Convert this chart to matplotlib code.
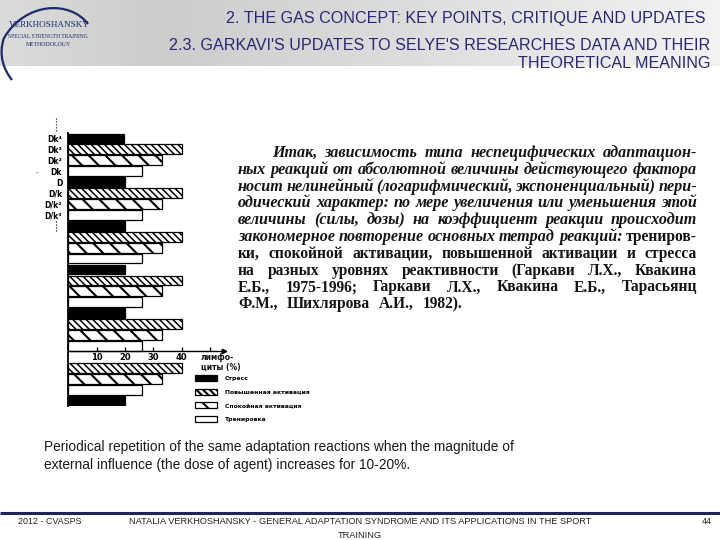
import numpy as np
import matplotlib
matplotlib.use('Agg')
import matplotlib.pyplot as plt
from matplotlib.path import Path
from matplotlib.patches import PathPatch

W, H = 720, 540
plt.rcParams['hatch.linewidth'] = 1.5

# ---------------- data ----------------
row_labels = ['Dk⁴', 'Dk³', 'Dk²', 'Dk', 'D', 'D/k', 'D/k²', 'D/k³']
row_kind = ['S', 'H', 'C', 'T', 'S', 'H', 'C', 'T', 'S', 'H', 'C', 'T',
            'S', 'H', 'C', 'T', 'S', 'H', 'C', 'T', '-', 'H', 'C', 'T', 'S']
lymph_pct = [19.5, 40, 33, 26, 20, 40, 33, 26, 20, 40, 33, 26,
             20, 40, 33, 26, 20, 40, 33, 26, 0, 40, 33, 26, 20]
kind_order = ['S', 'H', 'C', 'T']
kind_names = ['Стресс', 'Повышенная активация', 'Спокойная активация', 'Тренировка']
x_ticks = [10, 20, 30, 40, 50]
x_tick_labels = ['10', '20', '30', '40', '']

title1 = "2. THE GAS CONCEPT: KEY POINTS, CRITIQUE AND UPDATES"
title2 = "2.3. GARKAVI'S UPDATES TO SELYE'S RESEARCHES DATA AND THEIR"
title3 = "THEORETICAL MEANING"
caption1 = "Periodical repetition of the same adaptation reactions when the magnitude of"
caption2 = "external influence (the dose of agent) increases for 10-20%."
footer_left = "2012 - CVASPS"
footer_mid1 = "NATALIA VERKHOSHANSKY - GENERAL ADAPTATION SYNDROME AND ITS APPLICATIONS IN THE SPORT"
footer_mid2 = "TRAINING"
footer_right = "44"

ru_lines = [
    [("Итак, зависимость типа неспецифических адаптацион-", True)],
    [("ных реакций от абсолютной величины действующего фактора", True)],
    [("носит нелинейный (логарифмический, экспоненциальный) пери-", True)],
    [("одический характер: по мере увеличения или уменьшения этой", True)],
    [("величины (силы, дозы) на коэффициент реакции происходит", True)],
    [("закономерное повторение основных тетрад реакций:", True), ("трениров-", False)],
    [("ки, спокойной активации, повышенной активации и стресса", False)],
    [("на разных уровнях реактивности (Гаркави Л.Х., Квакина", False)],
    [("Е.Б., 1975-1996; Гаркави Л.Х., Квакина Е.Б., Тарасьянц", False)],
    [("Ф.М., Шихлярова А.И., 1982).", False)],
]

# ---------------- figure ----------------
fig = plt.figure(figsize=(7.2, 5.4), dpi=100)
bg = fig.add_axes([0, 0, 1, 1])
bg.axis('off')

xs = np.linspace(0, W, 721)
g = np.interp(xs, [0, 160, 720], [0.86, 0.80, 0.95])
img = np.dstack([np.tile(g, (2, 1))] * 3)
bg.imshow(img, extent=(0, W, 66, 0), aspect='auto', zorder=0)
bg.set_xlim(0, W)
bg.set_ylim(H, 0)

navy = '#272772'
logo_c = '#1c2a6b'
# logo
verts = [(88, 24), (70, 0), (25, 2), (4, 38), (-2, 55), (4, 70), (12, 80)]
codes = [Path.MOVETO] + [Path.CURVE4] * 6
bg.add_patch(PathPatch(Path(verts, codes), fill=False, edgecolor=logo_c, lw=1.6))
bg.text(49, 25, "VERKHOSHANSKY", fontsize=6.6, family='Liberation Serif',
        color=logo_c, ha='center', va='center')
bg.text(48, 36, "SPECIAL STRENGTH TRAINING", fontsize=4.0, family='Liberation Serif',
        color=logo_c, ha='center', va='center')
bg.text(48, 45, "METHODOLOGY", fontsize=4.2, family='Liberation Serif',
        color=logo_c, ha='center', va='center')

# titles
bg.text(705, 18, title1, fontsize=11.6, family='Liberation Sans', color=navy, ha='right', va='center')
bg.text(710, 46, title2, fontsize=11.6, family='Liberation Sans', color=navy, ha='right', va='center')
bg.text(710, 64, title3, fontsize=11.6, family='Liberation Sans', color=navy, ha='right', va='center')

# caption
bg.text(44, 447, caption1, fontsize=9.9, family='Liberation Sans', color='#1a1a1a', va='center')
bg.text(44, 465, caption2, fontsize=9.9, family='Liberation Sans', color='#1a1a1a', va='center')

# footer
bg.plot([0, W], [513, 513], color='#23235a', lw=2.2, solid_capstyle='butt')
bg.text(18, 522, footer_left, fontsize=6.4, family='Liberation Sans', color='#222222', va='center')
bg.text(360, 522, footer_mid1, fontsize=6.65, family='Liberation Sans', color='#222222', va='center', ha='center')
bg.text(360, 535, footer_mid2, fontsize=6.65, family='Liberation Sans', color='#222222', va='center', ha='center')
bg.text(712, 522, footer_right, fontsize=6.4, family='Liberation Sans', color='#222222', va='center', ha='right')

# stray mark
bg.text(37, 172, '-', fontsize=5, color='#333333', ha='center', va='center')

# ---------------- russian justified text ----------------
rend = fig.canvas.get_renderer()
def style(it):
    return dict(fontsize=11.6 if it else 11.2, family='Liberation Serif', fontweight='bold',
                fontstyle='italic' if it else 'normal', color='#141414', va='baseline')

def width(word, it):
    t = bg.text(0, 0, word, **style(it))
    w = t.get_window_extent(rend).width
    t.remove()
    return w

x_left, x_right, x_indent = 238, 697, 272
for i, segs in enumerate(ru_lines):
    words = []
    for s, it in segs:
        for w in s.split():
            words.append((w, it))
    ws = [width(w, it) for w, it in words]
    start = x_indent if i == 0 else x_left
    y = 157 + 16.8 * i
    if i < len(ru_lines) - 1 and len(words) > 1:
        gap = (x_right - start - sum(ws)) / (len(words) - 1)
    else:
        gap = 9
    x = start
    for (w, it), wd in zip(words, ws):
        bg.text(x, y, w, **style(it))
        x += wd + gap

# ---------------- bar chart ----------------
x0px, ppu = 68.4, 2.83
ax = fig.add_axes([x0px / W, 1 - 406 / H, 56 * ppu / W, 273 / H])
ax.set_xlim(0, 56)
ax.set_ylim(24.5, -0.5)
ax.patch.set_alpha(0)

kstyle = {'S': dict(color='black', hatch=None),
          'H': dict(color='white', hatch='\\\\\\\\\\'),
          'C': dict(color='white', hatch='\\\\'),
          'T': dict(color='white', hatch=None)}
handles = []
for k, name in zip(kind_order, kind_names):
    ys = [i for i, kk in enumerate(row_kind) if kk == k]
    vs = [lymph_pct[i] for i in ys]
    bc = ax.barh(ys, vs, height=0.9, color=kstyle[k]['color'], hatch=kstyle[k]['hatch'],
                 edgecolor='black', linewidth=0.9, label=name)
    if k == 'H':
        for p in bc.patches:
            try:
                p.set_hatch_linewidth(1.1)
            except Exception:
                pass
    handles.append(bc)

for s in ['top', 'right']:
    ax.spines[s].set_visible(False)
ax.spines['left'].set_linewidth(1.3)
ax.spines['bottom'].set_position(('data', 19.5))
ax.spines['bottom'].set_bounds(0, 54.5)
ax.spines['bottom'].set_linewidth(1.0)
ax.plot([55], [19.5], marker='>', ms=3.2, color='black', clip_on=False)

ax.set_xticks(x_ticks)
ax.set_xticklabels(x_tick_labels)
ax.tick_params(axis='x', direction='in', length=3, width=1, pad=1, labelsize=6)
for t in ax.get_xticklabels():
    t.set_fontweight('bold')
ax.set_yticks(range(len(row_labels)))
ax.set_yticklabels(row_labels, fontsize=5.5, fontweight='bold')
ax.tick_params(axis='y', length=0, pad=4.5)

ax.plot([-4.4, -4.4], [-1.9, -0.7], ls=':', lw=0.8, color='black', clip_on=False)
ax.plot([-4.4, -4.4], [7.6, 8.6], ls=':', lw=0.8, color='black', clip_on=False)

bg.text(201, 357, "лимфо-", fontsize=5.5, fontweight='bold', va='center', color='#111111')
bg.text(201, 367, "циты (%)", fontsize=5.5, fontweight='bold', va='center', color='#111111')

fig.legend(handles, kind_names, loc='upper left', bbox_to_anchor=(195 / W, 1 - 375 / H),
           frameon=False, prop=dict(size=4.4, weight='bold'), handlelength=3.6,
           handleheight=1.1, labelspacing=1.25, handletextpad=1.3, borderpad=0, borderaxespad=0)

fig.savefig('out.png', dpi=100)
